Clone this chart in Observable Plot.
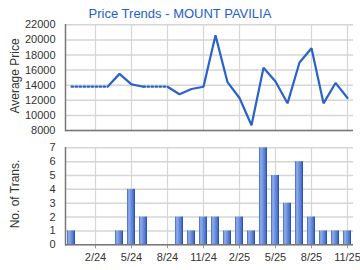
<!DOCTYPE html>
<html><head><meta charset="utf-8">
<script src="https://cdn.jsdelivr.net/npm/d3@7"></script>
<script src="https://cdn.jsdelivr.net/npm/@observablehq/plot@0.6"></script>
<style>
body{margin:0;background:#fff;font-family:"Liberation Sans",Arial,sans-serif}
#c{position:relative;width:360px;height:270px;overflow:hidden;background:#fff}
#c svg{position:absolute;left:0}
.title{position:absolute;left:0;width:360px;top:6px;text-align:center;font-size:13px;color:#2360c9;white-space:nowrap}
.ylab{position:absolute;font-size:12px;color:#333;white-space:nowrap;transform:translate(-50%,-50%) rotate(-90deg)}
</style></head><body><div id="c"></div>
<script>
const months = ["12/23","1/24","2/24","3/24","4/24","5/24","6/24","7/24","8/24","9/24","10/24","11/24","12/24",
  "1/25","2/25","3/25","4/25","5/25","6/25","7/25","8/25","9/25","10/25","11/25"];
const prices = [13800,13800,13800,13800,15500,14100,13800,13800,13800,12800,13500,13800,20600,
  14400,12300,8700,16300,14500,11600,17000,18900,11600,14300,12300];
const counts = [1,0,0,0,1,4,2,0,0,2,1,2,2,1,2,1,7,5,3,6,2,1,1,1];
const tickLabels = ["2/24","5/24","8/24","11/24","2/25","5/25","8/25","11/25"];
const priceTicks = [8000,10000,12000,14000,16000,18000,20000,22000];
const countTicks = [0,1,2,3,4,5,6,7];

const FONT = '"Liberation Sans", Arial, sans-serif';
const GRID = "#d6d6d6";
const LINE = "#2a62c9";

// line segments: dotted where the following month had no transactions
const segRows = [];
let g = -1, prevType = null;
for (let i = 0; i < months.length - 1; i++) {
  const dotted = counts[i + 1] === 0;
  if (dotted !== prevType) { g++; prevType = dotted; segRows.push({g, dotted, month: months[i], price: prices[i]}); }
  segRows.push({g, dotted, month: months[i + 1], price: prices[i + 1]});
}
const barRows = months.map((m, i) => ({month: m, count: counts[i]}));

const c = document.getElementById("c");

const topPlot = Plot.plot({
  width: 360, height: 135,
  marginLeft: 65, marginRight: 7, marginTop: 24.3, marginBottom: 5,
  style: {fontFamily: FONT, fontSize: "11px", color: "#333", background: "transparent", overflow: "visible"},
  x: {type: "point", domain: months, padding: 0.5, axis: null},
  y: {domain: [8000, 22000], axis: null},
  marks: [
    Plot.gridY(priceTicks, {stroke: GRID, strokeOpacity: 1, strokeWidth: 1.5}),
    Plot.gridX(tickLabels, {stroke: GRID, strokeOpacity: 1, strokeWidth: 1.2}),
    Plot.axisY(priceTicks, {tickSize: 0, tickPadding: 10, label: null, tickFormat: d => String(d), fill: "#333"}),
    Plot.line(segRows.filter(d => !d.dotted), {x: "month", y: "price", z: "g", stroke: LINE, strokeWidth: 2.2, strokeLinejoin: "miter"}),
    Plot.line(segRows.filter(d => d.dotted), {x: "month", y: "price", z: "g", stroke: LINE, strokeWidth: 2.2, strokeDasharray: "1.6,2.4"}),
    Plot.ruleY([8000], {stroke: "#777", strokeWidth: 1.5}),
    Plot.frame({anchor: "left", stroke: "#777", strokeWidth: 1.5})
  ]
});
topPlot.style.top = "0px";
c.appendChild(topPlot);

const gradDefs = () => {
  const defs = d3.create("svg:defs");
  const lg = defs.append("linearGradient").attr("id", "barGrad").attr("x1", "0").attr("x2", "1").attr("y1", "0").attr("y2", "0");
  [["0%", "#3c64c4"], ["22%", "#93aee9"], ["50%", "#6f92dc"], ["80%", "#4b73cf"], ["100%", "#1f45a8"]]
    .forEach(([o, col]) => lg.append("stop").attr("offset", o).attr("stop-color", col));
  return defs.node();
};

const botPlot = Plot.plot({
  width: 360, height: 134,
  marginLeft: 65, marginRight: 7, marginTop: 11.3, marginBottom: 25.7,
  style: {fontFamily: FONT, fontSize: "11px", color: "#333", background: "transparent", overflow: "visible"},
  x: {type: "band", domain: months, paddingInner: 0.3, paddingOuter: 0.15, axis: null},
  y: {domain: [0, 7], axis: null},
  marks: [
    gradDefs,
    Plot.gridY(countTicks, {stroke: GRID, strokeOpacity: 1, strokeWidth: 1.5}),
    Plot.gridX(tickLabels, {stroke: GRID, strokeOpacity: 1, strokeWidth: 1.2}),
    Plot.barY(barRows, {x: "month", y: "count", fill: "url(#barGrad)"}),
    Plot.axisY(countTicks, {tickSize: 0, tickPadding: 10, label: null, fill: "#333"}),
    Plot.axisX(tickLabels, {tickSize: 4, tickPadding: 4, label: null, stroke: "#999", fill: "#333"}),
    Plot.ruleY([0], {stroke: "#777", strokeWidth: 1.5}),
    Plot.frame({anchor: "left", stroke: "#777", strokeWidth: 1.5})
  ]
});
botPlot.style.top = "136px";
c.appendChild(botPlot);

const t = document.createElement("div");
t.className = "title"; t.textContent = "Price Trends - MOUNT PAVILIA";
c.appendChild(t);
const y1 = document.createElement("div");
y1.className = "ylab"; y1.textContent = "Average Price"; y1.style.left = "15px"; y1.style.top = "76px";
c.appendChild(y1);
const y2 = document.createElement("div");
y2.className = "ylab"; y2.textContent = "No. of Trans."; y2.style.left = "15px"; y2.style.top = "194px";
c.appendChild(y2);
</script></body></html>
